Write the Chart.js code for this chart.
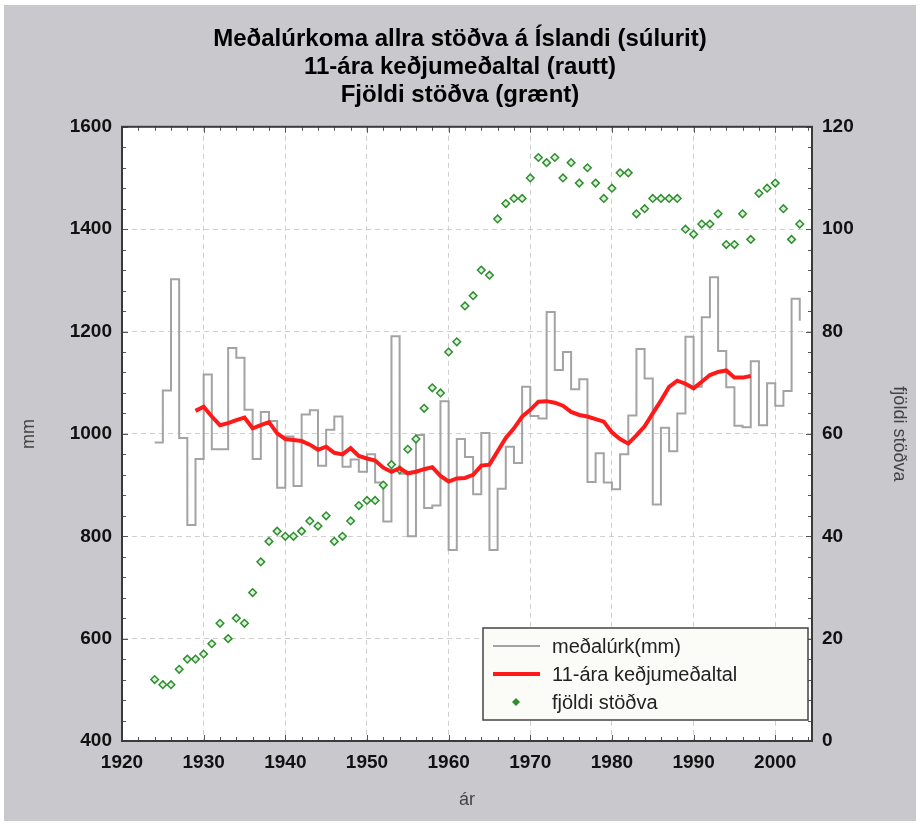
<!DOCTYPE html>
<html lang="is">
<head>
<meta charset="UTF-8">
<title>Meðalúrkoma allra stöðva á Íslandi</title>
<script src="https://cdn.jsdelivr.net/npm/chart.js@4.4.0/dist/chart.umd.min.js"></script>
<style>
  html, body { margin: 0; padding: 0; background: #fff; }
  #wrap { position: absolute; left: 0; top: 0; width: 920px; height: 825px; }
</style>
</head>
<body>
<div id="wrap"><canvas id="chart" width="920" height="825"></canvas></div>
<script>
// ár (years) for annual precipitation and station counts
var years = [
  1924, 1925, 1926, 1927, 1928, 1929, 1930, 1931, 1932, 1933,
  1934, 1935, 1936, 1937, 1938, 1939, 1940, 1941, 1942, 1943,
  1944, 1945, 1946, 1947, 1948, 1949, 1950, 1951, 1952, 1953,
  1954, 1955, 1956, 1957, 1958, 1959, 1960, 1961, 1962, 1963,
  1964, 1965, 1966, 1967, 1968, 1969, 1970, 1971, 1972, 1973,
  1974, 1975, 1976, 1977, 1978, 1979, 1980, 1981, 1982, 1983,
  1984, 1985, 1986, 1987, 1988, 1989, 1990, 1991, 1992, 1993,
  1994, 1995, 1996, 1997, 1998, 1999, 2000, 2001, 2002, 2003
];

// meðalúrkoma (mm)
var precip = [
  983, 1085, 1302, 992, 822, 951, 1116, 970, 970, 1168,
  1149, 1047, 951, 1043, 1025, 895, 995, 898, 1038, 1046,
  938, 1008, 1034, 936, 950, 926, 960, 905, 829, 1191,
  922, 800, 998, 855, 860, 1064, 773, 990, 955, 882,
  1002, 773, 893, 975, 943, 1092, 1035, 1030, 1238, 1125,
  1160, 1087, 1107, 906, 962, 905, 892, 960, 1036, 1166,
  1108, 862, 1012, 966, 1040, 1190, 1092, 1228, 1306, 1162,
  1091, 1016, 1013, 1142, 1017, 1099, 1055, 1084, 1264, 1221
];

// fjöldi stöðva
var stations = [
  12, 11, 11, 14, 16, 16, 17, 19, 23, 20,
  24, 23, 29, 35, 39, 41, 40, 40, 41, 43,
  42, 44, 39, 40, 43, 46, 47, 47, 50, 54,
  53, 57, 59, 65, 69, 68, 76, 78, 85, 87,
  92, 91, 102, 105, 106, 106, 110, 114, 113, 114,
  110, 113, 109, 112, 109, 106, 108, 111, 111, 103,
  104, 106, 106, 106, 106, 100, 99, 101, 101, 103,
  97, 97, 103, 98, 107, 108, 109, 104, 98, 101
];

// 11-ára keðjumeðaltal, 1929-1997
var avgYears = [
  1929, 1930, 1931, 1932, 1933, 1934, 1935, 1936, 1937, 1938,
  1939, 1940, 1941, 1942, 1943, 1944, 1945, 1946, 1947, 1948,
  1949, 1950, 1951, 1952, 1953, 1954, 1955, 1956, 1957, 1958,
  1959, 1960, 1961, 1962, 1963, 1964, 1965, 1966, 1967, 1968,
  1969, 1970, 1971, 1972, 1973, 1974, 1975, 1976, 1977, 1978,
  1979, 1980, 1981, 1982, 1983, 1984, 1985, 1986, 1987, 1988,
  1989, 1990, 1991, 1992, 1993, 1994, 1995, 1996, 1997
];
var avg = [
  1045, 1053, 1034, 1017, 1021, 1027, 1032, 1011, 1017, 1023,
  1001, 990, 988, 986, 979, 969, 975, 963, 960, 972,
  957, 952, 948, 934, 926, 933, 923, 926, 931, 935,
  918, 907, 913, 914, 920, 938, 940, 966, 992, 1011,
  1034, 1047, 1063, 1064, 1061, 1055, 1043, 1037, 1034, 1029,
  1024, 1003, 990, 981, 997, 1015, 1040, 1065, 1092, 1104,
  1098, 1089, 1102, 1115, 1121, 1124, 1110, 1110, 1113
];

var xTicks = [1920, 1930, 1940, 1950, 1960, 1970, 1980, 1990, 2000];

var titleLines = [
  'Meðalúrkoma allra stöðva á Íslandi (súlurit)',
  '11-ára keðjumeðaltal (rautt)',
  'Fjöldi stöðva (grænt)'
];

function pairs(xs, ys) {
  return xs.map(function (x, i) { return { x: x, y: ys[i] }; });
}
function plain(v) { return String(v); }

var tickFont = { family: 'Liberation Sans', size: 19, weight: 'bold' };
var labelFont = { family: 'Liberation Sans', size: 18 };
var gridDash = { display: true, color: 'rgba(0,0,0,0)', dash: [5, 4] };

// grey page, white plot area
var backdrop = {
  id: 'backdrop',
  beforeDraw: function (chart) {
    var c = chart.ctx, a = chart.chartArea;
    c.save();
    c.fillStyle = '#ffffff';
    c.fillRect(0, 0, chart.width, chart.height);
    c.fillStyle = '#c9c8cd';
    c.fillRect(4, 5, chart.width - 8, chart.height - 9);
    c.fillStyle = '#ffffff';
    c.fillRect(a.left, a.top, a.right - a.left, a.bottom - a.top);
    c.restore();
  }
};

// frame and small inner ticks
var frame = {
  id: 'frame',
  afterDatasetsDraw: function (chart) {
    var c = chart.ctx, a = chart.chartArea;
    var x = chart.scales.x, y = chart.scales.y, y2 = chart.scales.y2;
    c.save();
    c.strokeStyle = '#555';
    c.lineWidth = 1;
    c.beginPath();
    var v, p;
    for (v = 400; v <= 1600; v += 40) {
      p = Math.round(y.getPixelForValue(v)) + 0.5;
      c.moveTo(a.left, p); c.lineTo(a.left + (v % 200 === 0 ? 6 : 4), p);
    }
    for (v = 0; v <= 120; v += 4) {
      p = Math.round(y2.getPixelForValue(v)) + 0.5;
      c.moveTo(a.right, p); c.lineTo(a.right - (v % 20 === 0 ? 6 : 4), p);
    }
    for (v = 1920; v <= 2004; v += 2) {
      p = Math.round(x.getPixelForValue(v)) + 0.5;
      var len = v % 10 === 0 ? 6 : 4;
      c.moveTo(p, a.bottom); c.lineTo(p, a.bottom - len);
      c.moveTo(p, a.top); c.lineTo(p, a.top + len);
    }
    c.stroke();
    c.strokeStyle = '#3a3a3a';
    c.lineWidth = 2;
    c.strokeRect(a.left, a.top, a.right - a.left, a.bottom - a.top);
    c.restore();
  }
};

// legend inside the plot, bottom right
var boxLegend = {
  id: 'boxLegend',
  afterDraw: function (chart) {
    var c = chart.ctx, a = chart.chartArea;
    var w = 325, h = 92;
    var bx = a.right - 4 - w, by = a.bottom - 21 - h;
    c.save();
    c.fillStyle = '#fbfbf7';
    c.fillRect(bx, by, w, h);
    c.strokeStyle = '#444';
    c.lineWidth = 1.5;
    c.strokeRect(bx, by, w, h);
    c.font = '20px "Liberation Sans"';
    c.textBaseline = 'middle';
    chart.data.datasets.forEach(function (ds, i) {
      var ry = by + 18 + i * 28;
      if (ds.showLine === false) {
        c.fillStyle = ds.borderColor;
        c.beginPath();
        var cx = bx + 33;
        c.moveTo(cx, ry - 4); c.lineTo(cx + 4, ry); c.lineTo(cx, ry + 4); c.lineTo(cx - 4, ry);
        c.closePath();
        c.fill();
      } else {
        c.strokeStyle = ds.borderColor;
        c.lineWidth = ds.borderWidth;
        c.beginPath();
        c.moveTo(bx + 10, ry); c.lineTo(bx + 57, ry);
        c.stroke();
      }
      c.fillStyle = '#222';
      c.fillText(ds.label, bx + 69, ry + 1);
    });
    c.restore();
  }
};

new Chart(document.getElementById('chart'), {
  type: 'line',
  data: {
    datasets: [
      {
        label: 'meðalúrk(mm)',
        data: pairs(years, precip),
        yAxisID: 'y',
        stepped: true,
        borderColor: '#a3a3a3',
        borderWidth: 2,
        pointRadius: 0,
        order: 3
      },
      {
        label: '11-ára keðjumeðaltal',
        data: pairs(avgYears, avg),
        yAxisID: 'y',
        borderColor: '#ff1a1a',
        borderWidth: 4,
        pointRadius: 0,
        tension: 0,
        order: 1
      },
      {
        label: 'fjöldi stöðva',
        data: pairs(years, stations),
        yAxisID: 'y2',
        showLine: false,
        pointStyle: 'rectRot',
        pointRadius: 3.8,
        borderColor: '#2f8f2f',
        backgroundColor: '#dcefdc',
        borderWidth: 1.5,
        order: 2
      }
    ]
  },
  options: {
    responsive: false,
    animation: false,
    layout: { padding: 0 },
    plugins: {
      legend: { display: false },
      tooltip: { enabled: false },
      title: {
        display: true,
        text: titleLines,
        color: '#000',
        font: { family: 'Liberation Sans', size: 24, weight: 'bold', lineHeight: 1.15 },
        padding: { top: 26, bottom: 18 }
      }
    },
    scales: {
      x: {
        type: 'linear',
        min: 1920,
        max: 2004.5,
        afterBuildTicks: function (s) {
          s.ticks = xTicks.map(function (v) { return { value: v }; });
        },
        afterFit: function (s) { s.height = 84; },
        ticks: { color: '#111', font: tickFont, padding: 10, maxRotation: 0, autoSkip: false, callback: plain },
        grid: { color: '#cfcfcf', drawTicks: false },
        border: gridDash,
        title: { display: true, text: 'ár', color: '#444', font: labelFont, padding: { top: 0, bottom: 14 } }
      },
      y: {
        position: 'left',
        min: 400,
        max: 1600,
        afterFit: function (s) { s.width = 122; },
        ticks: { stepSize: 200, color: '#111', font: tickFont, padding: 10, callback: plain },
        grid: { color: '#cfcfcf', drawTicks: false },
        border: gridDash,
        title: { display: true, text: 'mm', color: '#444', font: labelFont, padding: { top: 18, bottom: 0 } }
      },
      y2: {
        position: 'right',
        min: 0,
        max: 120,
        afterFit: function (s) { s.width = 108; },
        ticks: { stepSize: 20, color: '#111', font: tickFont, padding: 10, callback: plain },
        grid: { display: false, drawTicks: false },
        border: { display: false },
        title: { display: true, text: 'fjöldi stöðva', color: '#444', font: labelFont, padding: { top: 10, bottom: 0 } }
      }
    }
  },
  plugins: [backdrop, frame, boxLegend]
});
</script>
</body>
</html>
